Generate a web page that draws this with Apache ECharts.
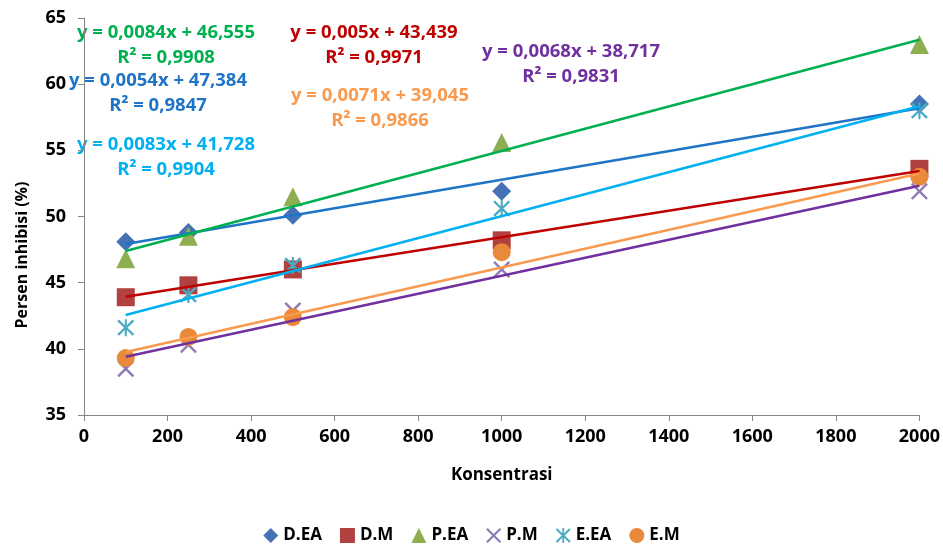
<!DOCTYPE html>
<html>
<head>
<meta charset="utf-8">
<script src="https://cdn.jsdelivr.net/npm/echarts@6/dist/echarts.min.js"></script>
<style>html,body{margin:0;padding:0;background:#fff}#c{width:943px;height:544px}</style>
</head>
<body>
<div id="c"></div>
<script>
const concentrations = [100, 250, 500, 1000, 2000];
const seriesNames = ['D.EA', 'D.M', 'P.EA', 'P.M', 'E.EA', 'E.M'];
const dEA = [48.1, 48.8, 50.1, 51.9, 58.5];
const dM  = [43.9, 44.8, 46.0, 48.2, 53.6];
const pEA = [46.8, 48.5, 51.5, 55.6, 63.0];
const pM  = [38.5, 40.3, 42.9, 46.0, 51.9];
const eEA = [41.6, 44.1, 46.3, 50.6, 58.0];
const eM  = [39.3, 40.9, 42.4, 47.3, 53.0];
const slopes     = [0.0054, 0.005, 0.0084, 0.0068, 0.0083, 0.0071];
const intercepts = [47.384, 43.439, 46.555, 38.717, 41.728, 39.045];
const r2Labels   = ['0,9847', '0,9971', '0,9908', '0,9831', '0,9904', '0,9866'];
const eqLabels   = ['y = 0,0054x + 47,384', 'y = 0,005x + 43,439', 'y = 0,0084x + 46,555', 'y = 0,0068x + 38,717', 'y = 0,0083x + 41,728', 'y = 0,0071x + 39,045'];
const xTicks = [0, 2000, 200];
const yTicks = [35, 65, 5];

const values = [dEA, dM, pEA, pM, eEA, eM];
const markerColors = ['#4472B4', '#B0413E', '#8FAE52', '#8E7AB5', '#4AAAC4', '#E9893A'];
const lineColors   = ['#1E74C6', '#C00000', '#00B050', '#7030A0', '#00B0F0', '#F99A4E'];
const xPath = 'path://M0,1 L1,0 L5,4 L9,0 L10,1 L6,5 L10,9 L9,10 L5,6 L1,10 L0,9 L4,5 Z';
const astPath = 'path://M4.4,0 L5.6,0 L5.6,10 L4.4,10 Z M0,1.2 L1,0.2 L5,4.2 L9,0.2 L10,1.2 L6,5 L10,8.8 L9,9.8 L5,5.8 L1,9.8 L0,8.8 L4,5 Z';
const symbols = ['diamond', 'rect', 'triangle', xPath, astPath, 'circle'];
const sizes = [19, 18, 19, 17, 17, 18];

const font = '"Open Sans", sans-serif';
const series = [];
seriesNames.forEach((n, i) => {
  series.push({
    name: n, type: 'scatter', symbol: symbols[i], symbolSize: sizes[i],
    itemStyle: { color: markerColors[i], opacity: 1 },
    data: concentrations.map((x, j) => [x, values[i][j]]), z: 2
  });
});
seriesNames.forEach((n, i) => {
  const x0 = concentrations[0], x1 = concentrations[concentrations.length - 1];
  series.push({
    name: n + ' trend', type: 'line', showSymbol: false, symbol: 'none',
    lineStyle: { color: lineColors[i], width: 2.5 }, silent: true, z: 3,
    data: [[x0, slopes[i] * x0 + intercepts[i]], [x1, slopes[i] * x1 + intercepts[i]]]
  });
});

// equation label positions [cx, cy of equation]
const eqPos = [[158, 81], [374, 33], [166, 33], [571, 52], [166, 145], [380, 96]];
const graphics = [];
eqPos.forEach((p, i) => {
  graphics.push({ type: 'text', x: p[0], y: p[1], style: { text: eqLabels[i], fill: lineColors[i], font: 'bold 18.5px ' + font, textAlign: 'center', textVerticalAlign: 'middle' } });
  graphics.push({ type: 'text', x: p[0], y: p[1] + 25, style: { text: 'R² = ' + r2Labels[i], fill: lineColors[i], font: 'bold 18.5px ' + font, textAlign: 'center', textVerticalAlign: 'middle' } });
});
graphics.push({ type: 'text', x: 22, y: 255, rotation: Math.PI / 2, style: { text: 'Persen inhibisi (%)', fill: '#000', font: 'bold 16px ' + font, textAlign: 'center', textVerticalAlign: 'middle' } });

const chart = echarts.init(document.getElementById('c'));
chart.setOption({
  animation: false,
  backgroundColor: '#fff',
  grid: { left: 84, right: 22, top: 18, bottom: 129 },
  xAxis: {
    type: 'value', min: xTicks[0], max: xTicks[1], interval: xTicks[2],
    name: 'Konsentrasi', nameLocation: 'middle', nameGap: 52,
    nameTextStyle: { fontFamily: font, fontWeight: 'bold', fontSize: 17, color: '#000' },
    axisLine: { show: true, lineStyle: { color: '#868686', width: 1 } },
    axisTick: { show: true, length: 6, lineStyle: { color: '#868686' } },
    axisLabel: { fontFamily: font, fontWeight: 'bold', fontSize: 18, color: '#000', margin: 13, formatter: v => String(v) },
    splitLine: { show: false }
  },
  yAxis: {
    type: 'value', min: yTicks[0], max: yTicks[1], interval: yTicks[2],
    axisLine: { show: true, lineStyle: { color: '#868686', width: 1 } },
    axisTick: { show: true, length: 6, lineStyle: { color: '#868686' } },
    axisLabel: { fontFamily: font, fontWeight: 'bold', fontSize: 18, color: '#000', margin: 18, formatter: v => String(v) },
    splitLine: { show: false }
  },
  legend: {
    data: seriesNames, bottom: -5, left: 'center', itemWidth: 15, itemHeight: 15, itemGap: 18,
    textStyle: { fontFamily: font, fontWeight: 'bold', fontSize: 17, color: '#000' }
  },
  graphic: graphics,
  series: series
});
</script>
</body>
</html>
